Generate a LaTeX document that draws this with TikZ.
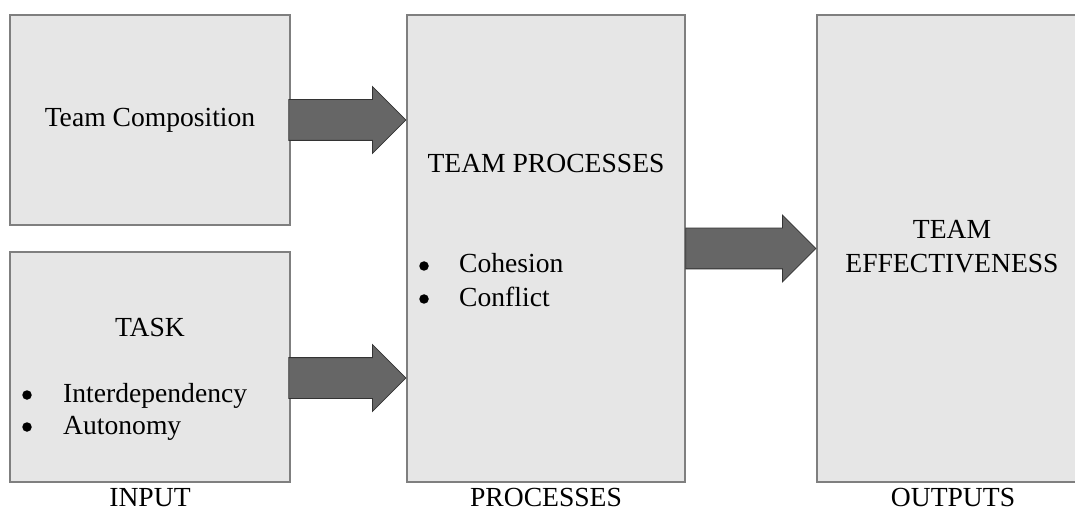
\documentclass[tikz,border=0pt]{standalone}
\usepackage{fontspec}
\setmainfont{Liberation Serif}
\usetikzlibrary{shapes.arrows}

\definecolor{boxfill}{HTML}{E6E6E6}
\definecolor{boxline}{HTML}{7F7F7F}
\definecolor{arrfill}{HTML}{666666}
\definecolor{arrline}{HTML}{333333}

\begin{document}
\begin{tikzpicture}
	[
		x=1pt, y=-1pt,
		every node/.style={font=\fontsize{27.6}{32}\selectfont},
		block/.style={draw=boxline, line width=1.2pt, fill=boxfill, inner sep=0pt},
		label/.style={inner sep=0pt, anchor=base},
		item/.style={inner sep=0pt, anchor=base west},
		dot/.style={circle, fill=black, inner sep=0pt, minimum size=9.5pt},
		bigarrow/.style={single arrow, draw=arrline, line width=0.8pt, fill=arrfill,
			inner xsep=0pt, inner ysep=20pt, single arrow head extend=13pt, anchor=tip}
	]
	\useasboundingbox (0,0) rectangle (1075,510);

	% Draw boxes.
	\node[block, minimum width=280pt, minimum height=210pt] (comp) at (150,120) {};
	\node[block, minimum width=280pt, minimum height=230pt] (task) at (150,367) {};
	\node[block, minimum width=278pt, minimum height=467pt] (proc) at (546,248.5) {};
	\node[block, minimum width=273pt, minimum height=467pt] (outc) at (953.5,248.5) {};

	% Box texts.
	\node (comptext) at (comp.center) {Team Composition};
	\node[label] (tasktitle) at (150,336) {TASK};
	\node[dot] (taskdotA) at (27,395) {};
	\node[item] (taskA) at (63,402) {Interdependency};
	\node[dot] (taskdotB) at (27,427) {};
	\node[item] (taskB) at (63,434) {Autonomy};
	\node[label] (proctitle) at (546,173) {TEAM PROCESSES};
	\node[dot] (procdotA) at (424,266) {};
	\node[item] (procA) at (459,273) {Cohesion};
	\node[dot] (procdotB) at (424,299) {};
	\node[item] (procB) at (459,306) {Conflict};
	\node[label] (outcA) at (952,239) {TEAM};
	\node[label] (outcB) at (952,273) {EFFECTIVENESS};

	% Draw arrows between boxes.
	\node[bigarrow, minimum height=117pt] (arrA) at (proc.west |- comp.east) {};
	\node[bigarrow, minimum height=117pt, yshift=-11pt] (arrB) at (proc.west |- task.east) {};
	\node[bigarrow, minimum height=130pt] (arrC) at (outc.west) {};

	% Column captions.
	\node[label] (capin) at (150,506) {INPUT};
	\node[label] (capproc) at (546,506) {PROCESSES};
	\node[label] (capout) at (953,506) {OUTPUTS};
\end{tikzpicture}
\end{document}
